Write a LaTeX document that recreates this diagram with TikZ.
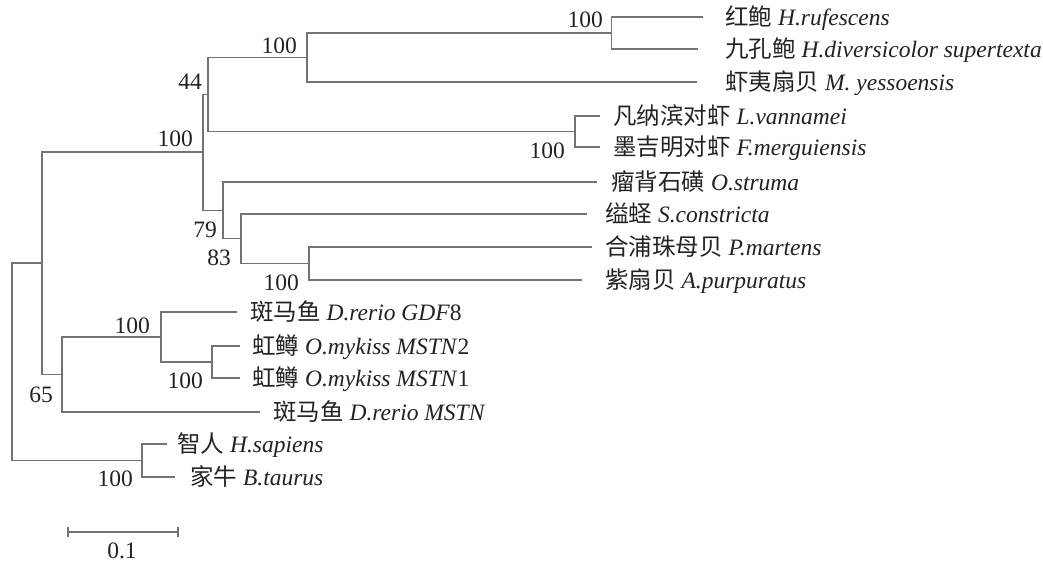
\documentclass[tikz,border=0pt]{standalone}
\usepackage{fontspec}
\setmainfont{Liberation Serif}
\newfontfamily\cjk{Noto Sans CJK SC}
\definecolor{lc}{HTML}{737373}
\definecolor{tc}{HTML}{222222}
\newcommand{\fs}{\fontsize{23.5}{27}\selectfont}
\begin{document}
\begin{tikzpicture}[x=1pt,y=-1pt,
  br/.style={draw=lc, line width=1.1pt},
  taxon/.style={anchor=base west, inner sep=0pt, text=tc, font=\fs},
  boot/.style={anchor=base east, inner sep=0pt, text=tc, font=\fs}]
\useasboundingbox (0,0) rectangle (1043,564);
% internal nodes
\coordinate (R) at (12,362);
\coordinate (N1) at (42,263);
\coordinate (N2) at (203,152);
\coordinate (N3) at (208,94.5);
\coordinate (N4) at (307,57.5);
\coordinate (N5) at (611.7,33);
\coordinate (N6) at (575,131.5);
\coordinate (N7) at (223,210.5);
\coordinate (N8) at (241,238.5);
\coordinate (N9) at (309,263.5);
\coordinate (N10) at (62,374.5);
\coordinate (N11) at (161,337);
\coordinate (N12) at (212,362);
\coordinate (N13) at (142,460.5);
% leaves
\coordinate (L1) at (703,17);
\coordinate (L2) at (698,49);
\coordinate (L3) at (697,82);
\coordinate (L4) at (600,116);
\coordinate (L5) at (600,147);
\coordinate (L6) at (597,182);
\coordinate (L7) at (587,214);
\coordinate (L8) at (592,247);
\coordinate (L9) at (582,280);
\coordinate (L10) at (237,312);
\coordinate (L11) at (240,346);
\coordinate (L12) at (240,378);
\coordinate (L13) at (260,412);
\coordinate (L14) at (167,444);
\coordinate (L15) at (175,477);
% branches
\draw[br] (R) |- (N1);
\draw[br] (R) |- (N13);
\draw[br] (N1) |- (N2);
\draw[br] (N1) |- (N10);
\draw[br] (N2) |- (N3);
\draw[br] (N2) |- (N7);
\draw[br] (N3) |- (N4);
\draw[br] (N3) |- (N6);
\draw[br] (N4) |- (N5);
\draw[br] (N4) |- (L3);
\draw[br] (N5) |- (L1);
\draw[br] (N5) |- (L2);
\draw[br] (N6) |- (L4);
\draw[br] (N6) |- (L5);
\draw[br] (N7) |- (L6);
\draw[br] (N7) |- (N8);
\draw[br] (N8) |- (L7);
\draw[br] (N8) |- (N9);
\draw[br] (N9) |- (L8);
\draw[br] (N9) |- (L9);
\draw[br] (N10) |- (N11);
\draw[br] (N10) |- (L13);
\draw[br] (N11) |- (L10);
\draw[br] (N11) |- (N12);
\draw[br] (N12) |- (L11);
\draw[br] (N12) |- (L12);
\draw[br] (N13) |- (L14);
\draw[br] (N13) |- (L15);
% taxa
\node[taxon] (t1) at (725,25.5) {{\cjk 红鲍} \textit{H.rufescens}};
\node[taxon] (t2) at (725,57.5) {{\cjk 九孔鲍} \textit{H.diversicolor supertexta}};
\node[taxon] (t3) at (725,90.5) {{\cjk 虾夷扇贝} \textit{M. yessoensis}};
\node[taxon] (t4) at (613,124.5) {{\cjk 凡纳滨对虾} \textit{L.vannamei}};
\node[taxon] (t5) at (613,155.5) {{\cjk 墨吉明对虾} \textit{F.merguiensis}};
\node[taxon] (t6) at (611,190.5) {{\cjk 瘤背石磺} \textit{O.struma}};
\node[taxon] (t7) at (605,222.5) {{\cjk 缢蛏} \textit{S.constricta}};
\node[taxon] (t8) at (605,255.5) {{\cjk 合浦珠母贝} \textit{P.martens}};
\node[taxon] (t9) at (605,288.5) {{\cjk 紫扇贝} \textit{A.purpuratus}};
\node[taxon] (t10) at (250,320.5) {{\cjk 斑马鱼} \textit{D.rerio GDF}8};
\node[taxon] (t11) at (252,354.5) {{\cjk 虹鳟} \textit{O.mykiss MSTN}2};
\node[taxon] (t12) at (252,386.5) {{\cjk 虹鳟} \textit{O.mykiss MSTN}1};
\node[taxon] (t13) at (273,420.5) {{\cjk 斑马鱼} \textit{D.rerio MSTN}};
\node[taxon] (t14) at (177,452.5) {{\cjk 智人} \textit{H.sapiens}};
\node[taxon] (t15) at (190,485.5) {{\cjk 家牛} \textit{B.taurus}};
% bootstrap values
\node[boot] (b5) at (603,27.5) {100};
\node[boot] (b4) at (297,54) {100};
\node[boot] (b3) at (202,90) {44};
\node[boot] (b2) at (193,147) {100};
\node[boot] (b6) at (565,159) {100};
\node[boot] (b7) at (217,237) {79};
\node[boot] (b8) at (231,265) {83};
\node[boot] (b9) at (299,290) {100};
\node[boot] (b11) at (150,333) {100};
\node[boot] (b12) at (203,388) {100};
\node[boot] (b10) at (53,402) {65};
\node[boot] (b13) at (133,486) {100};
% scale bar
\coordinate (s1) at (68,532);
\coordinate (s2) at (178,532);
\draw[br] (s1) -- (s2);
\draw[br] ([yshift=-5]s1) -- ([yshift=5]s1);
\draw[br] ([yshift=-5]s2) -- ([yshift=5]s2);
\node[anchor=base, inner sep=0pt, text=tc, font=\fs] (sl) at (122,558) {0.1};
\end{tikzpicture}
\end{document}
